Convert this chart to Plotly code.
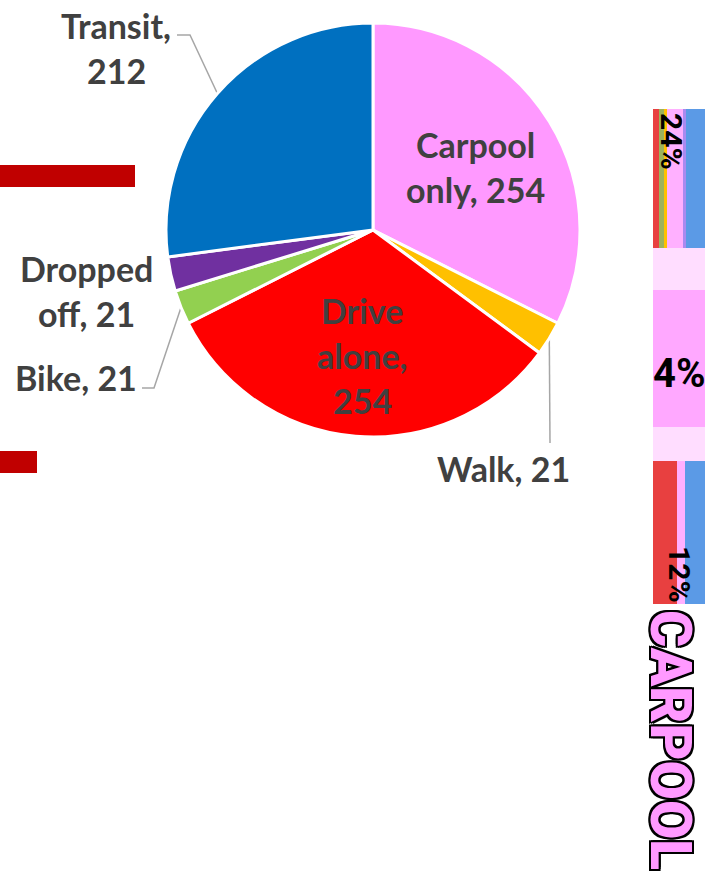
import math
import plotly.graph_objects as go

# ---------------- data ----------------
modes = ["Carpool only", "Walk", "Drive alone", "Bike", "Dropped off", "Transit"]
counts = [254, 21, 254, 21, 21, 212]
mode_colors = ["#FF99FF", "#FFC000", "#FF0000", "#92D050", "#7030A0", "#0070C0"]
# how each label's words are grouped into lines
line_groups = [[[0], [1, 2]], [[0, 1]], [[0], [1], [2]], [[0, 1]], [[0], [1, 2]], [[0], [1]]]
# centre of first text line of each label (pixels), and line pitch
label_pos = [(475, 144), (503, 468), (362, 310), (76, 377), (86, 268), (116, 25)]
label_pitch = 45
# leader-line elbow points (label side) for outside labels; None = no leader
leader_elbows = [None, [(550, 443)], None, [(142, 388), (154, 388)], None, [(177, 35), (190, 35)]]

# pie geometry (pixels)
pie_cx, pie_cy, pie_r = 373, 230, 207

# left cropped red bars
left_bar_rows = [176, 462]
left_bar_lengths = [135, 37]
left_bar_thick = 22
left_bar_color = "#C00000"

# right decorative strip
strip_left = 653
strip_blocks = [
    # (top, bottom, segment widths, segment colours)
    (109, 248, [6, 5, 3, 16, 3, 19], ["#E84040", "#9DB35B", "#FFC000", "#FFB0FF", "#A98AF0", "#5B9AE6"]),
    (248, 290, [52], ["#FFDDFF"]),
    (290, 427, [52], ["#FFA8FF"]),
    (427, 461, [52], ["#FFDDFF"]),
    (461, 604, [24, 8, 20], ["#E84040", "#FFB0FF", "#5B9AE6"]),
]
strip_texts = [("24%", 672, 141, 90, 30), ("4%", 679, 373, 0, 40), ("12%", 680, 574, 90, 30)]
banner_text = ("CARPOOL", 671, 740)

W, H = 705, 874
fig = go.Figure()

# pie
fig.add_trace(go.Pie(
    labels=modes, values=counts, sort=False, direction="clockwise", rotation=0,
    marker=dict(colors=mode_colors, line=dict(color="white", width=3)),
    textinfo="none", hoverinfo="label+value", showlegend=False,
    domain=dict(x=[(pie_cx - pie_r) / W, (pie_cx + pie_r) / W],
                y=[1 - (pie_cy + pie_r) / H, 1 - (pie_cy - pie_r) / H]),
))

# left bars
fig.add_trace(go.Bar(orientation="h", y=left_bar_rows, x=left_bar_lengths, base=[0] * len(left_bar_rows),
                     width=[left_bar_thick] * len(left_bar_rows), marker=dict(color=left_bar_color, line=dict(width=0)),
                     showlegend=False, hoverinfo="skip"))

# strips
for top, bot, widths, cols in strip_blocks:
    left = strip_left
    for w, c in zip(widths, cols):
        fig.add_trace(go.Bar(orientation="h", y=[(top + bot) / 2], x=[w], base=[left], width=[bot - top],
                             marker=dict(color=c, line=dict(width=0)), showlegend=False, hoverinfo="skip"))
        left += w

# leader lines from slice mid-angles
total = sum(counts)
cum = 0
mid_angles = []
for v in counts:
    mid_angles.append((cum + v / 2) / total * 360)
    cum += v
for ang, elbows in zip(mid_angles, leader_elbows):
    if not elbows:
        continue
    a = math.radians(ang)
    px = pie_cx + pie_r * math.sin(a)
    py = pie_cy - pie_r * math.cos(a)
    xs = [e[0] for e in elbows] + [px]
    ys = [e[1] for e in elbows] + [py]
    fig.add_trace(go.Scatter(x=xs, y=ys, mode="lines", line=dict(color="#A6A6A6", width=1.5),
                             showlegend=False, hoverinfo="skip"))

annotations = []
lab_font = dict(family="Lato, Carlito, Calibri, sans-serif", size=34, color="#404040", weight="bold")
for name, v, groups, (lx, ly) in zip(modes, counts, line_groups, label_pos):
    words = f"{name}, {v}".split(" ")
    for i, g in enumerate(groups):
        annotations.append(dict(x=lx, y=ly + i * label_pitch, xref="x", yref="y",
                                text=" ".join(words[k] for k in g), showarrow=False,
                                xanchor="center", yanchor="middle", font=lab_font))

narrow = "Roboto, Liberation Sans, sans-serif"
for t, x, y, ang, sz in strip_texts:
    annotations.append(dict(x=x, y=y, xref="x", yref="y", text=t, showarrow=False, textangle=ang,
                            xanchor="center", yanchor="middle",
                            font=dict(family=narrow, size=sz, color="#000000", weight="bold")))

outline = ", ".join(f"{dx}px {dy}px 0 #000" for dx in (-2, 0, 2) for dy in (-2, 0, 2) if dx or dy)
annotations.append(dict(x=banner_text[1], y=banner_text[2], xref="x", yref="y", text=banner_text[0],
                        showarrow=False, textangle=90, xanchor="center", yanchor="middle",
                        font=dict(family=narrow, size=57, color="#FF99FF", weight=900, shadow=outline)))

fig.update_layout(
    width=W, height=H, margin=dict(l=0, r=0, t=0, b=0),
    paper_bgcolor="white", plot_bgcolor="white", barmode="overlay",
    xaxis=dict(range=[0, W], visible=False, fixedrange=True),
    yaxis=dict(range=[H, 0], visible=False, fixedrange=True),
    annotations=annotations, showlegend=False,
)
fig.write_html("out.html", config={"displayModeBar": False},
               post_script="document.body.style.margin='0';document.body.style.overflow='hidden';")
